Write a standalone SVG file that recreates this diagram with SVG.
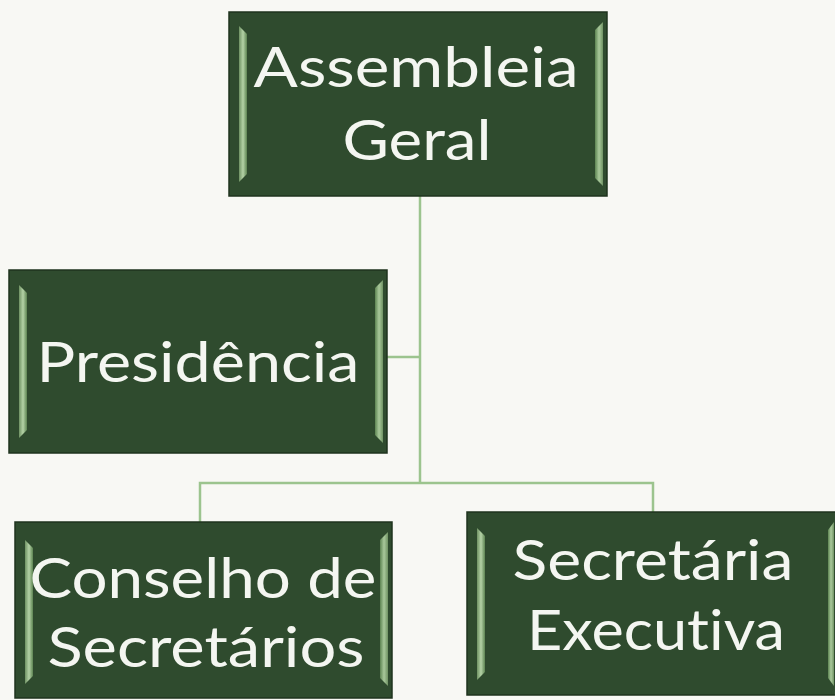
<svg xmlns="http://www.w3.org/2000/svg" width="835" height="700" viewBox="0 0 835 700">
<defs>
<linearGradient id="bl" x1="0" y1="0" x2="1" y2="0">
<stop offset="0" stop-color="#6f9263"/>
<stop offset="0.5" stop-color="#b4d2a6"/>
<stop offset="1" stop-color="#5d8452"/>
</linearGradient>
<linearGradient id="br" x1="0" y1="0" x2="1" y2="0">
<stop offset="0" stop-color="#5d8452"/>
<stop offset="0.5" stop-color="#a9c99b"/>
<stop offset="1" stop-color="#6f9263"/>
</linearGradient>
</defs>
<style>
.box{fill:#2f4b2e;stroke:#1f331e;stroke-width:1.5}
.bev{stroke:none}
.t{font-family:Lato,"Open Sans","DejaVu Sans",sans-serif;font-size:57px;fill:#f4f6f1;text-anchor:middle;font-variant-ligatures:none;font-feature-settings:"liga" 0,"clig" 0}
.c{fill:none;stroke:#9cc48e;stroke-width:2.5}
</style>
<rect width="835" height="700" fill="#f8f8f4"/>
<g id="connectors">
<path class="c" d="M420 196 V483"/>
<path class="c" d="M387 357 H420"/>
<path class="c" d="M200 522 V483 H653 V512"/>
</g>
<g id="assembleia">
<rect class="box" x="229" y="12" width="378" height="184"/>
<polygon class="bev" fill="url(#bl)" points="239,26 247,34 247,174 239,182"/>
<polygon class="bev" fill="url(#br)" points="603,22 595,30 595,178 603,186"/>
<text class="t" x="416" y="87" textLength="325" lengthAdjust="spacingAndGlyphs">Assembleia</text>
<text class="t" x="417" y="160" textLength="149" lengthAdjust="spacingAndGlyphs">Geral</text>
</g>
<g id="presidencia">
<rect class="box" x="9" y="270" width="378" height="183"/>
<polygon class="bev" fill="url(#bl)" points="19,285 27,293 27,430 19,438"/>
<polygon class="bev" fill="url(#br)" points="383,280 375,288 375,435 383,443"/>
<text class="t" x="198" y="382" textLength="323" lengthAdjust="spacingAndGlyphs">Presidência</text>
</g>
<g id="conselho">
<rect class="box" x="15" y="522" width="377" height="176"/>
<polygon class="bev" fill="url(#bl)" points="25,540 33,548 33,676 25,684"/>
<polygon class="bev" fill="url(#br)" points="388,532 380,540 380,678 388,686"/>
<text class="t" x="203" y="598" textLength="347" lengthAdjust="spacingAndGlyphs">Conselho de</text>
<text class="t" x="206" y="667" textLength="317" lengthAdjust="spacingAndGlyphs">Secretários</text>
</g>
<g id="secretaria">
<rect class="box" x="467" y="512" width="370" height="183"/>
<polygon class="bev" fill="url(#bl)" points="477,528 485,536 485,672 477,680"/>
<polygon class="bev" fill="url(#br)" points="834,522 828,530 828,678 834,686"/>
<text class="t" x="653" y="580" textLength="281" lengthAdjust="spacingAndGlyphs">Secretária</text>
<text class="t" x="656" y="650" textLength="258" lengthAdjust="spacingAndGlyphs">Executiva</text>
</g>
</svg>
